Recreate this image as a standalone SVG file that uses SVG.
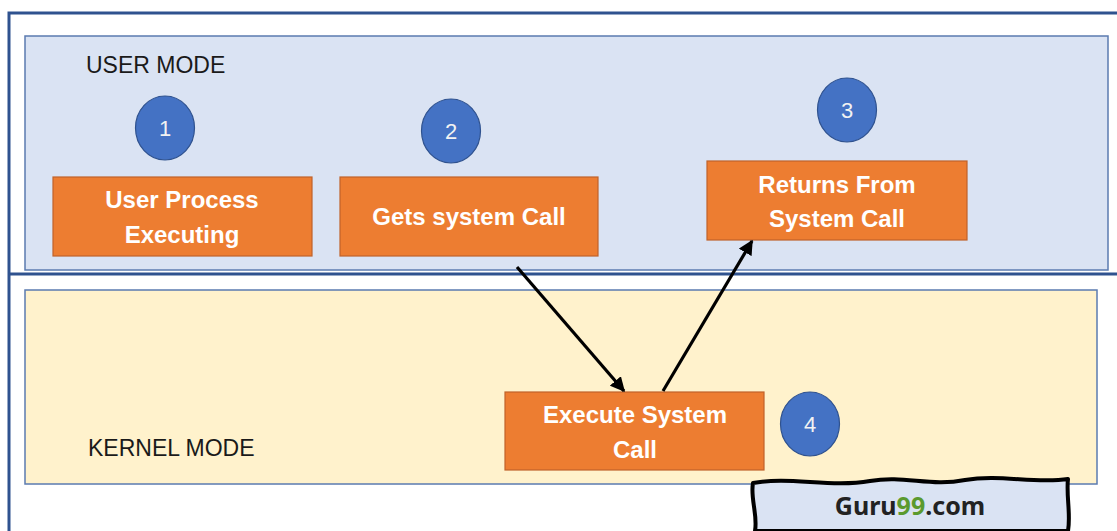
<svg xmlns="http://www.w3.org/2000/svg" width="1117" height="531" viewBox="0 0 1117 531">
<defs>
<style>
.frame{fill:none;stroke:#2f528f;stroke-width:3}
.region{stroke:#5b7bb0;stroke-width:1.5}
.box{fill:#ed7d31;stroke:#c0622a;stroke-width:1.2}
.btxt{font-family:"Liberation Sans",Arial,sans-serif;font-weight:bold;font-size:24px;fill:#ffffff;text-anchor:middle}
.circ{fill:#4472c4;stroke:#2f528f;stroke-width:1.2}
.ntxt{font-family:"Liberation Sans",Arial,sans-serif;font-size:22px;fill:#f2f2f2;text-anchor:middle}
.mode{font-family:"Liberation Sans",Arial,sans-serif;font-size:23px;fill:#1a1a1a}
.conn{stroke:#000;stroke-width:3.2;fill:none;marker-end:url(#ah)}
</style>
<marker id="ah" viewBox="0 0 10 10" refX="9" refY="5" markerWidth="4.6" markerHeight="4.6" orient="auto" markerUnits="strokeWidth">
<path d="M0,0 L10,5 L0,10 z" fill="#000"/>
</marker>
</defs>
<rect width="1117" height="531" fill="#ffffff"/>
<g id="frame">
<path class="frame" d="M9,531 L9,13 L1117,13"/>
<path class="frame" d="M9,274 L1117,274"/>
</g>
<g id="user-mode">
<rect class="region" x="25" y="36" width="1083" height="234" fill="#dae3f3"/>
<text class="mode" x="86" y="73">USER MODE</text>
</g>
<g id="kernel-mode">
<rect class="region" x="25" y="290" width="1072" height="194" fill="#fff2cc"/>
<text class="mode" x="88" y="456">KERNEL MODE</text>
</g>
<g id="step1">
<ellipse class="circ" cx="165" cy="128" rx="29.5" ry="32"/>
<text class="ntxt" x="165" y="136">1</text>
</g>
<g id="step2">
<ellipse class="circ" cx="451" cy="131" rx="29.5" ry="32"/>
<text class="ntxt" x="451" y="139">2</text>
</g>
<g id="step3">
<ellipse class="circ" cx="847" cy="110" rx="29.5" ry="32"/>
<text class="ntxt" x="847" y="118">3</text>
</g>
<g id="step4">
<ellipse class="circ" cx="810" cy="424" rx="29.5" ry="32"/>
<text class="ntxt" x="810" y="432">4</text>
</g>
<g id="user-process">
<rect class="box" x="53" y="177" width="259" height="79"/>
<text class="btxt" x="182" y="208">User Process</text>
<text class="btxt" x="182" y="243">Executing</text>
</g>
<g id="gets-system-call">
<rect class="box" x="340" y="177" width="258" height="79"/>
<text class="btxt" x="469" y="225">Gets system Call</text>
</g>
<g id="returns-from-system-call">
<rect class="box" x="707" y="161" width="260" height="79"/>
<text class="btxt" x="837" y="193">Returns From</text>
<text class="btxt" x="837" y="227">System Call</text>
</g>
<g id="execute-system-call">
<rect class="box" x="505" y="392" width="259" height="78"/>
<text class="btxt" x="635" y="423">Execute System</text>
<text class="btxt" x="635" y="458">Call</text>
</g>
<g id="connectors">
<line class="conn" x1="517" y1="267" x2="624" y2="391"/>
<line class="conn" x1="663" y1="391" x2="752" y2="241"/>
</g>
<g id="watermark">
<path d="M753,483 C790,476 830,488 870,481 C905,475 930,487 965,480 C1000,474 1035,484 1068,479 C1066,495 1071,515 1068,531 L755,531 C758,515 750,498 753,483 z" fill="#dae3f3" stroke="#000" stroke-width="4" stroke-linejoin="round"/>
<text x="910" y="515" font-family="'Noto Sans','DejaVu Sans',sans-serif" font-weight="bold" font-size="25px" fill="#222" text-anchor="middle">Guru<tspan fill="#5b9a2e">99</tspan>.com</text>
</g>
</svg>
